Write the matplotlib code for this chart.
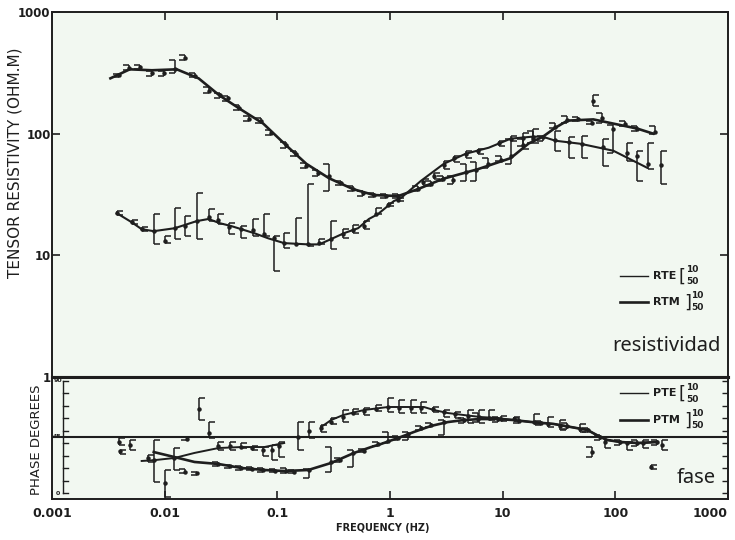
import numpy as np
import matplotlib
matplotlib.use('Agg')
import matplotlib.pyplot as plt
from matplotlib.path import Path
from matplotlib.lines import Line2D
from matplotlib.transforms import blended_transform_factory

# ---------------- data ----------------
x_ticks = [0.001, 0.01, 0.1, 1, 10, 100, 1000]
x_ticklabels = ["0.001", "0.01", "0.1", "1", "10", "100", "1000"]
rho_ticks = [1, 10, 100, 1000]
rho_ticklabels = ["1", "10", "100", "1000"]

# model curves (resistivity)
rtm_line_f = [0.0033, 0.0049, 0.0077, 0.0128, 0.020, 0.0307, 0.046, 0.075, 0.120, 0.181, 0.288, 0.471,
              0.72, 1.18, 1.77, 2.94, 6.0, 11.8, 17, 22.6, 29.4, 37.6, 63.8, 96, 157, 217]
rtm_line_v = [285, 338, 332, 338, 285, 206, 161, 121, 80, 56.5, 43, 35, 31.3, 30.7, 35, 42.5, 51, 63,
              83, 94, 112, 128, 131, 121, 110, 100]
rte_line_f = [0.00376, 0.0051, 0.00625, 0.0080, 0.01225, 0.0192, 0.0245, 0.0307, 0.039, 0.048, 0.0625,
              0.083, 0.115, 0.188, 0.235, 0.30, 0.39, 0.52, 0.65, 0.78, 1.08, 1.25, 1.88, 3.0, 4.7, 7.5,
              11.8, 18.4, 22.6, 29.4, 49, 96, 192]
rte_line_v = [22.2, 18.7, 16.4, 15.8, 16.7, 19.1, 19.9, 18.4, 17.4, 16.4, 15.2, 13.8, 12.6, 12.3, 12.3,
              13.6, 15.2, 16.7, 19.9, 21.8, 27.9, 29.6, 40.9, 56.5, 68.4, 76.6, 91, 94.5, 94.5, 87.5,
              82.6, 72.4, 52.4]

# measured resistivity (value, lower, upper)
rtm_f = [0.0039, 0.0048, 0.0060, 0.0077, 0.0098, 0.01225, 0.0150, 0.0184, 0.0245, 0.0307, 0.0368, 0.046,
         0.0565, 0.072, 0.0885, 0.120, 0.147, 0.181, 0.231, 0.288, 0.368, 0.471, 0.577, 0.72, 0.92, 1.18,
         1.77, 2.31, 2.94, 3.61, 4.7, 5.77, 7.36, 9.6, 11.8, 15.0, 18.4, 22.6, 29.4, 37.6, 47, 62.5,
         76.7, 96, 123, 157, 226]
rtm_v = [302, 348, 355, 313, 313, 340, 417, 300, 226, 206, 195, 164, 133, 128, 102, 80, 68.4, 54.4,
         47.6, 45, 39.4, 35.1, 32.5, 31.3, 30.7, 30.7, 35.1, 38.6, 42.5, 42, 48, 50, 56, 61, 65, 80,
         90, 94, 114, 130, 131, 123, 135, 110, 120, 110, 104]
rtm_lo = [295, 332, 340, 300, 300, 313, 400, 290, 215, 196, 186, 156, 126, 122, 97, 76, 65, 52, 45,
          33.8, 37.5, 33.5, 31, 30, 29.5, 29.5, 33.5, 37, 40.5, 38.6, 40.9, 40.9, 52.4, 59.8, 56.5,
          79.6, 84.3, 87.5, 112, 123, 126, 119, 123, 70, 115, 106, 100]
rtm_hi = [310, 365, 370, 330, 330, 401, 441, 313, 240, 216, 205, 172, 140, 135, 108, 85, 72, 57, 50,
          56.5, 41, 37, 34, 32.5, 32, 32, 37, 40.5, 44.5, 45, 56.5, 58.5, 63.4, 66, 91, 91, 106, 96,
          123, 141, 136, 128, 149, 118, 128, 116, 116]

rte_f = [0.00376, 0.0051, 0.00625, 0.0080, 0.0100, 0.01225, 0.0153, 0.0192, 0.0245, 0.030, 0.037,
         0.048, 0.0614, 0.0767, 0.094, 0.115, 0.147, 0.188, 0.235, 0.30, 0.384, 0.471, 0.589, 0.75,
         0.96, 1.18, 1.96, 2.45, 3.0, 3.7, 4.7, 6.0, 9.2, 11.8, 15.0, 18.4, 29.4, 38.4, 51, 63.8,
         78.3, 128, 157, 196, 255]
rte_v = [22.2, 18.7, 16.4, 15.8, 13.2, 16.7, 17.5, 19, 20.5, 19.5, 17, 16.4, 16, 15, 13.8, 12.6,
         12.3, 12.3, 12.6, 13.6, 15, 16.2, 17.5, 22, 26, 28.5, 40, 45, 55, 63, 68, 71.5, 84, 90, 92,
         94, 88, 86, 82, 185, 78, 70, 65, 56, 55]
rte_lo = [21.5, 18, 15.8, 12.3, 12.6, 13.6, 14.3, 13.6, 19.1, 18, 15, 13.8, 14.5, 14.5, 7.4, 11.4,
          12.3, 11.9, 12.3, 11.2, 13.8, 15.2, 16.4, 21.8, 25.4, 27.9, 38, 42.5, 51.4, 58.5, 63.4,
          68.4, 79.6, 87.5, 75.2, 84.3, 72.4, 63.4, 63.4, 170, 54.4, 59.8, 40.9, 51.4, 38.6]
rte_hi = [23, 19.5, 17, 21.8, 14.3, 24.4, 21, 32.5, 24, 22, 18.4, 17.4, 19.9, 21.8, 14.5, 15.2, 20.2,
          38.6, 13.6, 19.1, 16.4, 17.8, 19.1, 24.5, 26.9, 29.5, 42.5, 47.6, 59.8, 66, 72.4, 75.2,
          87.5, 96, 102, 110, 106, 94, 96, 206, 91, 84.3, 72.4, 84.3, 72.4]

# model curves (phase)
pte_line_f = [0.00625, 0.0080, 0.01225, 0.0184, 0.030, 0.048, 0.0767, 0.115, float('nan'),
              0.245, 0.30, 0.384, 0.589, 0.96, 1.53, 2.0, 2.45, 3.26, 4.52, 6.4, 9.0, 12.5, 17.7,
              28.3, 40, 56.5, 73.6, 85, 111, 157, 235]
pte_line_v = [25.9, 26.5, 28.3, 32.3, 36.2, 37.0, 37.0, 40.2, float('nan'),
              53, 58.5, 62.5, 66.5, 68.9, 68.9, 68.9, 66.5, 64.1, 62.5, 60.9, 60.1, 58.5, 57,
              55.4, 53, 50.6, 45, 42.6, 41, 40.2, 41]
ptm_line_f = [0.0080, 0.01225, 0.0184, 0.030, 0.048, 0.0767, 0.115, 0.188, 0.30, 0.48, 0.68, 0.83,
              1.18, 1.63, 2.31, 3.26, 4.52, 6.4, 9.0, 12.5, 17.7, 28.3, 40, 56.5, 73.6, 85, 111, 157, 235]
ptm_line_v = [33, 29, 25.1, 23.5, 20.3, 18.7, 17.9, 18.7, 24.3, 32.3, 37, 39.4, 44.2, 49, 53.8,
              56.9, 58.5, 59.3, 59.3, 58.5, 57, 55.4, 53, 50.6, 45, 42.6, 41, 40.2, 41]

# measured phase (value, lower, upper)
pte_f = [0.0039, 0.0040, 0.0049, 0.0071, 0.0080, 0.0100, 0.0122, 0.020, 0.0245, 0.030, 0.038, 0.048,
         0.060, 0.075, 0.090, 0.103, 0.153, 0.19, 0.245, 0.30, 0.384, 0.47, 0.589, 0.75, 0.96, 1.2,
         1.53, 1.87, 2.4, 3.0, 3.8, 4.9, 6.2, 7.5, 9.6, 12.5, 18.8, 25, 32.6, 49, 81.6, 128, 177,
         208, 261]
pte_v = [41, 33.5, 38.6, 28, 27, 8, 28, 67, 48, 38, 37.5, 37, 36.5, 34.5, 35, 38, 45, 50, 52, 57, 61,
         64.5, 66, 67.5, 69, 68.5, 68.5, 68, 67, 65, 63.5, 62, 61, 60.5, 59.5, 59, 57, 55, 54, 51,
         41, 40, 40, 21, 39]
pte_lo = [38.6, 31.5, 34.6, 25.1, 9.2, -3, 18.7, 58.5, 44.2, 35, 35, 36, 35, 30, 26.7, 29, 34.6,
          44.2, 49, 55, 57, 63, 62.5, 66, 65, 64, 64, 64, 65, 61, 60, 56, 56, 58.5, 58, 57.5, 55.4,
          52.6, 50.2, 48.6, 36.2, 34.6, 36.2, 19.5, 34.6]
pte_hi = [44.2, 35, 42.6, 30.7, 42.6, 18.7, 36.2, 76, 57, 41, 41, 40, 38, 37, 38.6, 41, 57, 57,
          54.5, 60, 66.5, 67, 68, 70.5, 76, 74.5, 74.5, 73, 69, 66.5, 65, 66.5, 66.5, 66.5, 62, 61,
          63.5, 60.9, 58.5, 55.7, 42.6, 41, 42.6, 23, 42.6]

ptm_f = [0.0150, 0.0157, 0.0192, 0.030, 0.038, 0.048, 0.060, 0.075, 0.095, 0.12, 0.14, 0.19, 0.30,
         0.36, 0.47, 0.59, 0.78, 0.96, 1.18, 1.45, 1.87, 2.3, 3.0, 4.5, 6.0, 9.0, 14, 22, 37, 57,
         62.5, 73.6, 111, 157, 235]
ptm_v = [17.5, 43.8, 16.3, 23.5, 21.5, 20.3, 19.5, 18.7, 18, 17.9, 17.5, 18.7, 25, 27, 32, 34, 39.5,
         42, 44, 47, 52, 54.5, 57, 58.5, 59, 59.3, 58, 56, 53.5, 50.5, 33, 45, 41, 40, 41]
ptm_lo = [16, 43, 15, 22, 20.5, 19, 18.5, 17.5, 17, 16, 16, 12.4, 17.1, 25, 21, 33, 38, 40, 43, 42.6,
          50.5, 53, 46.6, 56, 57, 57, 56, 54.5, 51, 49, 29, 42.6, 38.6, 37.8, 38.6]
ptm_hi = [19.5, 44.6, 17.5, 25, 23, 21.5, 21, 20, 19.5, 20, 19, 19.5, 37, 28, 34.6, 35.5, 41, 49,
          45.5, 49, 53.5, 56, 58.5, 60, 64, 61, 60, 57.5, 56.5, 52, 37, 46.6, 42.6, 42.6, 42.6]

phase_ref = 45
phase_scale_ticks = [0, 10, 20, 30, 40, 50, 60, 70, 80, 90]
phase_scale_labels = {90: "90", 45: "45", 0: "0"}

# ---------------- style ----------------
INK = '#1e1e1e'
BG = '#f2f8f1'
COND = ['DejaVu Sans']
W, H = 735, 540

fig = plt.figure(figsize=(7.35, 5.4), dpi=100)
fig.patch.set_facecolor('white')

def fx(px):
    return px / W

def fy(py):
    return 1 - py / H

L, R, T, MID, B = 52, 728, 12, 377, 499
ax1 = fig.add_axes([fx(L), fy(MID), fx(R) - fx(L), fy(T) - fy(MID)])
ax2 = fig.add_axes([fx(L), fy(B), fx(R) - fx(L), fy(MID) - fy(B)])

right_tick = Path([(0, 0), (1, 0)])
left_tick = Path([(0, 0), (-1, 0)])


def draw_points(ax, f, v, lo, hi, side):
    ax.vlines(f, lo, hi, color=INK, lw=1.1, zorder=3)
    m = right_tick if side == '[' else left_tick
    for arr in (lo, hi):
        ax.plot(f, arr, ls='none', marker=m, ms=8, mew=1.1, mec=INK, mfc='none', zorder=3)
    ax.plot(f, v, ls='none', marker='o', ms=2.2, color=INK, zorder=4)


for ax in (ax1, ax2):
    ax.set_facecolor(BG)
    ax.set_xscale('log')
    ax.set_xlim(1e-3, 1e3)
    for s in ax.spines.values():
        s.set_linewidth(1.4)
        s.set_color(INK)
    ax.minorticks_off()

# ---- upper panel ----
ax1.set_yscale('log')
ax1.set_ylim(1, 1000)
ax1.plot(rtm_line_f, rtm_line_v, color=INK, lw=1.9, zorder=2)
ax1.plot(rte_line_f, rte_line_v, color=INK, lw=1.5, zorder=2)
draw_points(ax1, rtm_f, rtm_v, rtm_lo, rtm_hi, ']')
draw_points(ax1, rte_f, rte_v, rte_lo, rte_hi, '[')
ax1.set_xticks(x_ticks)
ax1.set_xticklabels([])
ax1.set_yticks(rho_ticks)
ax1.set_yticklabels(rho_ticklabels)
ax1.minorticks_off()
ax1.tick_params(direction='in', length=6, width=1.2, top=True, right=True, bottom=False,
                labelbottom=False, pad=1, colors=INK)
for lab in ax1.get_yticklabels():
    lab.set_family(COND)
    lab.set_fontweight('bold')
    lab.set_fontsize(8.5)
ax1.spines['bottom'].set_linewidth(2.2)

# ---- lower panel ----
ax2.set_ylim(-4.4, 92.8)
ax2.axhline(phase_ref, color=INK, lw=1.5, zorder=2)
ax2.plot(ptm_line_f, ptm_line_v, color=INK, lw=1.9, zorder=2)
ax2.plot(pte_line_f, pte_line_v, color=INK, lw=1.4, zorder=2)
draw_points(ax2, ptm_f, ptm_v, ptm_lo, ptm_hi, ']')
draw_points(ax2, pte_f, pte_v, pte_lo, pte_hi, '[')
ax2.set_xticks(x_ticks)
ax2.set_xticklabels(x_ticklabels)
ax2.minorticks_off()
ax2.set_yticks(phase_scale_ticks)
ax2.tick_params(axis='y', direction='in', length=4, width=1.0, left=False, right=True,
                labelleft=False, colors=INK)
ax2.tick_params(axis='x', direction='in', length=6, width=1.2, top=False, pad=6, colors=INK)
for lab in ax2.get_xticklabels():
    lab.set_family(COND)
    lab.set_fontweight('bold')
    lab.set_fontsize(9)
ax2.get_xticklabels()[-1].set_horizontalalignment('right')
ax2.get_xticklabels()[-1].set_x(1000)
ax2.spines['top'].set_linewidth(2.2)

# inner phase scale
bt = blended_transform_factory(ax2.transAxes, ax2.transData)
sx = (63 - L) / (R - L)
ax2.plot([sx, sx], [0, 90], transform=bt, color=INK, lw=1.0, clip_on=False)
for p in phase_scale_ticks:
    ax2.plot([sx, sx + 0.008], [p, p], transform=bt, color=INK, lw=1.0)
for p, t in phase_scale_labels.items():
    ax2.text((57.5 - L) / (R - L), p, t, transform=bt, ha='center', va='center',
             fontsize=4.5, fontweight='bold', color=INK, family=COND)

# ---- axis labels ----
fig.text(fx(15), fy(163), 'TENSOR RESISTIVITY (OHM.M)', rotation=90, ha='center', va='center',
         fontsize=11, color=INK, family=COND)
fig.text(fx(36), fy(440), 'PHASE DEGREES', rotation=90, ha='center', va='center',
         fontsize=9.5, color=INK, family=COND)
fig.text(fx(383), fy(528), 'FREQUENCY (HZ)', ha='center', va='center',
         fontsize=7, fontweight='bold', color=INK, family=COND)


# ---- legends ----
def legend_entry(ypx, name, bracket, lw):
    fig.add_artist(Line2D([fx(620), fx(648)], [fy(ypx), fy(ypx)], lw=lw, color=INK))
    fig.text(fx(653), fy(ypx), name, ha='left', va='center', fontsize=8, fontweight='bold',
             color=INK, family=COND)
    xb = 679 if name.endswith('E') else 684
    fig.text(fx(xb), fy(ypx + 1), bracket, ha='left', va='center', fontsize=13, color=INK,
             family=COND)
    fig.text(fx(xb + 7), fy(ypx - 6), '10', ha='left', va='center', fontsize=6.5,
             fontweight='bold', color=INK, family=COND)
    fig.text(fx(xb + 7), fy(ypx + 6), '50', ha='left', va='center', fontsize=6.5,
             fontweight='bold', color=INK, family=COND)


legend_entry(276, 'RTE', '[', 1.0)
legend_entry(302, 'RTM', ']', 1.9)
legend_entry(393, 'PTE', '[', 1.0)
legend_entry(420, 'PTM', ']', 1.9)
fig.text(fx(721), fy(346), 'resistividad', ha='right', va='center', fontsize=14.5, color=INK,
         family=['Noto Sans', 'DejaVu Sans'])
fig.text(fx(716), fy(478), 'fase', ha='right', va='center', fontsize=14.5, color=INK,
         family=['Noto Sans', 'DejaVu Sans'])

fig.savefig('out.png', dpi=100, facecolor='white')
